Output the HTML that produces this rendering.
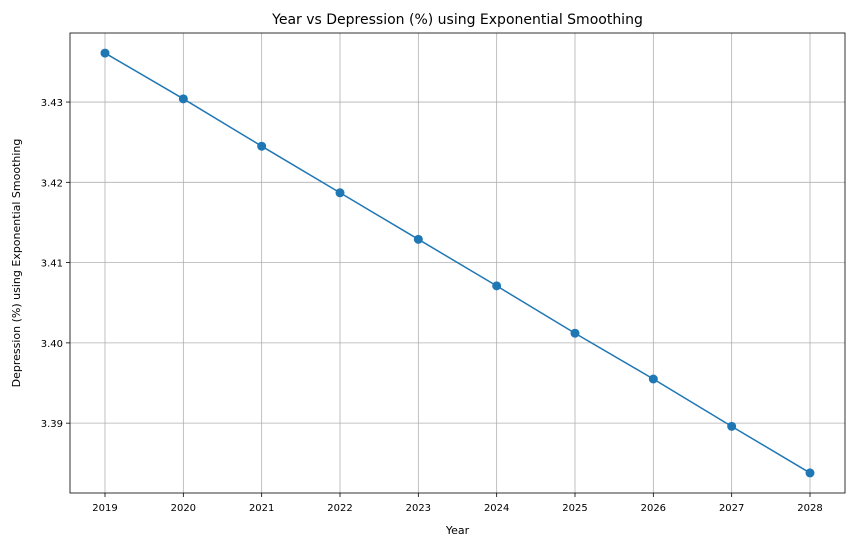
<!DOCTYPE html>
<html><head><meta charset="utf-8"><style>
body{margin:0;background:#fff;font-family:"Liberation Sans","DejaVu Sans",sans-serif}
text{font-family:"DejaVu Sans","Liberation Sans",sans-serif;fill:#000}
</style></head><body>
<svg id="chart" width="855" height="547" xmlns="http://www.w3.org/2000/svg"></svg>
<script>
const years=[2019,2020,2021,2022,2023,2024,2025,2026,2027,2028];
const values=[3.4361,3.4304,3.4245,3.4187,3.4129,3.4071,3.4012,3.3955,3.3896,3.3838];
const yTicks=[3.39,3.40,3.41,3.42,3.43];
const yTickLabels=["3.39","3.40","3.41","3.42","3.43"];
const L=70,R=845,T=33,B=493;
const yMin=3.3813,yMax=3.4386;
const x=v=>105+(v-2019)*(810-105)/9;
const y=v=>B-(v-yMin)/(yMax-yMin)*(B-T);
const svg=document.getElementById('chart');
const NS='http://www.w3.org/2000/svg';
function mk(tag,attrs,txt){const e=document.createElementNS(NS,tag);for(const k in attrs)e.setAttribute(k,attrs[k]);if(txt!==undefined)e.textContent=txt;svg.appendChild(e);return e;}
years.forEach(yr=>{
 const g=mk('line',{x1:x(yr),x2:x(yr),y1:T,y2:B,stroke:'#b0b0b0','stroke-width':0.8});
 
 
 mk('line',{x1:x(yr),x2:x(yr),y1:B,y2:B+4,stroke:'#000','stroke-width':0.8});
 const t=mk('text',{x:x(yr),y:B+18,'text-anchor':'middle','font-size':10},String(yr));
 
 
});
yTicks.forEach((v,i)=>{
 const g=mk('line',{x1:L,x2:R,y1:y(v),y2:y(v),stroke:'#b0b0b0','stroke-width':0.8});
 
 
 mk('line',{x1:L-4,x2:L,y1:y(v),y2:y(v),stroke:'#000','stroke-width':0.8});
 const t=mk('text',{x:L-7,y:y(v)+4,'text-anchor':'end','font-size':10},yTickLabels[i]);
 
 
});
const fr=mk('rect',{x:L,y:T,width:R-L,height:B-T,fill:'none',stroke:'#000','stroke-width':0.8});


const ln=mk('polyline',{points:years.map((yr,i)=>x(yr)+','+y(values[i])).join(' '),fill:'none',stroke:'#1f77b4','stroke-width':1.5});


years.forEach((yr,i)=>{
 const c=mk('circle',{cx:x(yr),cy:y(values[i]),r:4.5,fill:'#1f77b4'});
 
 
});
const ti=mk('text',{x:(L+R)/2,y:24,'text-anchor':'middle','font-size':14},'Year vs Depression (%) using Exponential Smoothing');


const xt=mk('text',{x:(L+R)/2,y:534,'text-anchor':'middle','font-size':11},'Year');


const yt=mk('text',{x:0,y:0,'text-anchor':'middle','font-size':11,transform:'translate(20,'+((T+B)/2)+') rotate(-90)'},'Depression (%) using Exponential Smoothing');


</script>
</body></html>
